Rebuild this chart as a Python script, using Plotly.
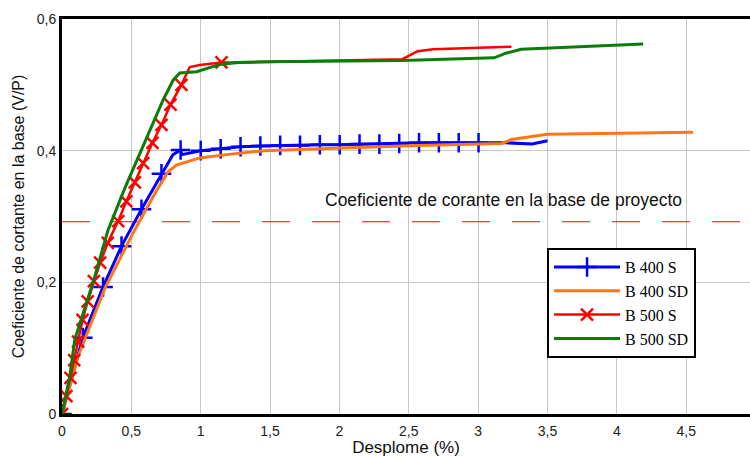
import plotly.graph_objects as go

# Drift (%) vs base shear coefficient (V/P) for the four building models
b400s_x = [0, 0.15, 0.296, 0.429, 0.573, 0.717, 0.80, 0.855, 0.865, 1.0, 1.144, 1.287, 1.43,
           1.573, 1.716, 1.859, 2.002, 2.145, 2.288, 2.431, 2.574, 2.717, 2.86, 3.003, 3.2, 3.39, 3.5]
b400s_y = [0, 0.116, 0.193, 0.255, 0.311, 0.365, 0.394, 0.401, 0.394, 0.400, 0.403, 0.406, 0.407,
           0.408, 0.408, 0.409, 0.409, 0.410, 0.410, 0.411, 0.412, 0.412, 0.412, 0.412, 0.412, 0.410, 0.415]
b400s_mark = [1, 1, 1, 1, 1, 1, 0, 1, 0, 1, 1, 1, 1, 1, 1, 1, 1, 1, 1, 1, 1, 1, 1, 1, 0, 0, 0]

b400sd_x = [0, 0.116, 0.309, 0.525, 0.681, 0.765, 0.825, 0.993, 1.185, 1.461, 2.013, 2.564,
            3.17, 3.24, 3.50, 4.55]
b400sd_y = [0, 0.0875, 0.191, 0.280, 0.339, 0.368, 0.378, 0.389, 0.394, 0.400, 0.404, 0.408,
            0.411, 0.417, 0.425, 0.428]

b500s_x = [0, 0.032, 0.061, 0.088, 0.116, 0.148, 0.185, 0.23, 0.275, 0.33, 0.405, 0.464, 0.525,
           0.585, 0.652, 0.717, 0.782, 0.861, 0.921, 0.993, 1.15, 1.323, 2.454, 2.564, 2.675, 3.24]
b500s_y = [0, 0.027, 0.055, 0.082, 0.110, 0.143, 0.171, 0.202, 0.230, 0.260, 0.293, 0.323, 0.352,
           0.381, 0.412, 0.439, 0.470, 0.500, 0.527, 0.530, 0.534, 0.534, 0.539, 0.551, 0.554, 0.558]
b500s_mark = [1] * 18 + [0, 0, 1, 0, 0, 0, 0, 0]

b500sd_x = [0, 0.056, 0.092, 0.224, 0.333, 0.453, 0.729, 0.801, 0.849, 0.97, 1.138, 1.27, 1.461,
            2.454, 3.116, 3.2, 3.31, 4.19]
b500sd_y = [0, 0.057, 0.113, 0.200, 0.280, 0.343, 0.477, 0.507, 0.518, 0.520, 0.531, 0.534, 0.535,
            0.537, 0.541, 0.548, 0.554, 0.562]

design_coef = 0.292
x_max = 4.96

x_ticks = [0, 0.5, 1, 1.5, 2, 2.5, 3, 3.5, 4, 4.5]
y_ticks = [0, 0.2, 0.4, 0.6]

BLUE = "#0000ff"
ORANGE = "#ff7518"
RED = "#ff0000"
GREEN = "#0a7d0a"

fig = go.Figure()

# design base shear coefficient (dashed reference)
fig.add_trace(go.Scatter(x=[0, x_max], y=[design_coef, design_coef], mode="lines",
                         line=dict(color=RED, width=1.2, dash="28px,22px"),
                         showlegend=False, hoverinfo="skip"))


def add_series(name, xs, ys, color, width, symbol=None, mask=None, msize=12):
    fig.add_trace(go.Scatter(x=xs, y=ys, mode="lines", line=dict(color=color, width=width),
                             showlegend=False, legendgroup=name))
    if symbol is not None:
        mx = [x for x, m in zip(xs, mask) if m]
        my = [y for y, m in zip(ys, mask) if m]
        fig.add_trace(go.Scatter(x=mx, y=my, mode="markers", showlegend=False, legendgroup=name,
                                 marker=dict(symbol=symbol, size=msize, color=color,
                                             line=dict(color=color, width=2.5))))
        fig.add_trace(go.Scatter(x=[None], y=[None], mode="lines+markers", name=name,
                                 legendgroup=name, line=dict(color=color, width=width),
                                 marker=dict(symbol=symbol, size=msize, color=color,
                                             line=dict(color=color, width=2.5))))
    else:
        fig.add_trace(go.Scatter(x=[None], y=[None], mode="lines", name=name, legendgroup=name,
                                 line=dict(color=color, width=width)))


add_series("B 400 S", b400s_x, b400s_y, BLUE, 3, "cross-thin", b400s_mark, 14)
add_series("B 400 SD", b400sd_x, b400sd_y, ORANGE, 3)
add_series("B 500 S", b500s_x, b500s_y, RED, 2.5, "x-thin", b500s_mark, 12)
add_series("B 500 SD", b500sd_x, b500sd_y, GREEN, 3)

fig.add_annotation(x=3.18, y=0.325, xref="x", yref="y", showarrow=False,
                   text="Coeficiente de corante en la base de proyecto",
                   font=dict(family="Liberation Sans, Arial", size=17.5, color="#111"))

axis_font = dict(family="Liberation Sans, Arial", size=14, color="#222")
fig.update_layout(
    width=750, height=457,
    margin=dict(l=62, r=0, t=19, b=43),
    paper_bgcolor="white", plot_bgcolor="white",
    separators=",.",
    xaxis=dict(range=[0, x_max], tickvals=x_ticks, showgrid=True, gridcolor="#c8c8c8",
               gridwidth=1, zeroline=False, showline=True, linecolor="black", linewidth=3,
               mirror=True, ticks="", tickfont=axis_font, ticklabelstandoff=2,
               title=dict(text="Desplome (%)", standoff=6,
                          font=dict(family="Liberation Sans, Arial", size=17, color="#111"))),
    yaxis=dict(range=[0, 0.6], tickvals=y_ticks, showgrid=True, gridcolor="#c8c8c8",
               gridwidth=1, zeroline=False, showline=True, linecolor="black", linewidth=3,
               ticks="", tickfont=axis_font,
               title=dict(text="Coeficiente de cortante en la base (V/P)", standoff=9,
                          font=dict(family="Liberation Sans, Arial", size=16, color="#111"))),
    legend=dict(x=0.705, y=0.42, xanchor="left", yanchor="top",
                bordercolor="black", borderwidth=2, bgcolor="white",
                font=dict(family="Liberation Serif, Times New Roman", size=16, color="black"),
                itemwidth=66, tracegroupgap=0),
    showlegend=True,
)

fig.write_html("out.html")
